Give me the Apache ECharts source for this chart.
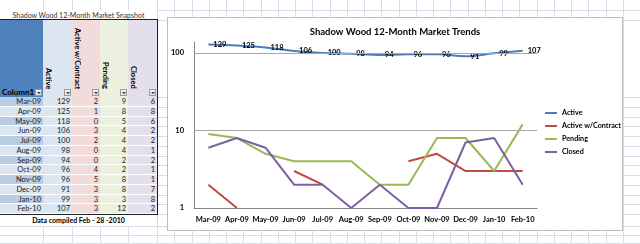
<!DOCTYPE html>
<html>
<head>
<meta charset="utf-8">
<script src="https://cdn.jsdelivr.net/npm/echarts@6/dist/echarts.min.js"></script>
<style>
  html, body { margin: 0; padding: 0; }
  body { width: 640px; height: 244px; overflow: hidden; background: #fff; position: relative; font-family: Lato, "Liberation Sans", sans-serif; }
  .abs { position: absolute; box-sizing: border-box; }
  #chartBox { left: 167px; top: 17px; width: 456px; height: 214px; border: 1px solid #bcbcbc; background: #fff; z-index: 5; }
  #chart { width: 100%; height: 100%; }
</style>
</head>
<body>
<div id="chartBox" class="abs"><div id="chart"></div></div>
<script>
// data
var months = ["Mar-09", "Apr-09", "May-09", "Jun-09", "Jul-09", "Aug-09", "Sep-09", "Oct-09", "Nov-09", "Dec-09", "Jan-10", "Feb-10"];
var activeList = [129, 125, 118, 106, 100, 98, 94, 96, 96, 91, 99, 107];
var contractList = [2, 1, 0, 3, 2, 0, 0, 4, 5, 3, 3, 3];
var pendingList = [9, 8, 5, 4, 4, 4, 2, 2, 8, 8, 3, 12];
var closedList = [6, 8, 6, 2, 2, 1, 2, 1, 1, 7, 8, 2];
var seriesNames = ["Active", "Active w/Contract", "Pending", "Closed"];
var seriesColors = ["#4a7ebb", "#be4b48", "#98b954", "#7d60a0"];

// ---- spreadsheet background + table ----
function box(x, y, w, h, css, text) {
  var d = document.createElement("div");
  d.className = "abs";
  d.style.left = x + "px";
  d.style.top = y + "px";
  d.style.width = w + "px";
  d.style.height = h + "px";
  if (css) d.style.cssText += css;
  if (text !== undefined) d.textContent = text;
  document.body.appendChild(d);
  return d;
}

var gridColor = "#d9dce8";
var colX = [43, 72, 100, 128, 157];
for (var k = 1; k <= 28; k++) colX.push(157 + k * 17.25);
colX.forEach(function (x) { box(x, 0, 1, 244, "background:" + gridColor + ";"); });
var rowTop = 97, rowH = 9.75;
var rowY = [9.5, 19.5, 97];
for (var r = 1; r <= 12; r++) rowY.push(rowTop + r * rowH);
rowY.push(226, 234.5, 243);
rowY.forEach(function (y) { box(0, y, 640, 1, "background:" + gridColor + ";"); });

box(0, 9.5, 157, 10, "font-size:7px;color:#333;text-align:center;line-height:10px;background:#fff;", "Shadow Wood 12-Month Market Snapshot");

var cols = [
  { x: 0, w: 43, bg: "#4f81bd", alt: ["#b8cce4", "#dce6f1"], name: "Column1" },
  { x: 43, w: 29, bg: "#dce6f1", name: "Active", vals: activeList },
  { x: 72, w: 28, bg: "#f2dcdb", name: "Active w/Contract", vals: contractList },
  { x: 100, w: 28, bg: "#ebf1de", name: "Pending", vals: pendingList },
  { x: 128, w: 29, bg: "#e4dfec", name: "Closed", vals: closedList }
];
var headTop = 19.5, headH = 77.5;
cols.forEach(function (c, ci) {
  box(c.x, headTop, c.w, headH, "background:" + c.bg + ";");
  if (ci === 0) {
    box(c.x + 2, 87, 34, 10, "font-size:8px;font-weight:bold;color:#000;line-height:10px;", c.name);
  } else {
    var t = box(c.x + 1, 22, 8, 67, "overflow:hidden;display:flex;flex-direction:column;justify-content:flex-end;");
    var s = document.createElement("div");
    s.style.cssText = "writing-mode:vertical-rl;font-size:7.5px;font-weight:bold;color:#000;white-space:nowrap;line-height:8px;";
    s.textContent = c.name;
    t.appendChild(s);
  }
  // filter button
  var b = box(c.x + c.w - 8, 88.5, 7, 7, "background:linear-gradient(#fafafa,#dcdcdc);border:1px solid #9a9a9a;z-index:2;");
  var tri = document.createElement("div");
  tri.style.cssText = "position:absolute;left:1px;top:2px;width:0;height:0;border-left:2px solid transparent;border-right:2px solid transparent;border-top:2px solid #333;";
  b.appendChild(tri);

  months.forEach(function (m, i) {
    var bg = ci === 0 ? c.alt[i % 2] : c.bg;
    var txt = ci === 0 ? m : String(c.vals[i]);
    box(c.x, rowTop + i * rowH, c.w, rowH,
      "background:" + bg + ";border-bottom:1px solid #fff;font-size:7.5px;color:#222;text-align:right;padding-right:2px;line-height:9px;", txt);
  });
});
box(-2, 19, 160, 196, "border:1.5px solid #1f1f1f;z-index:3;");
box(0, 215, 157, 11, "font-size:7px;font-weight:bold;color:#000;text-align:center;line-height:11px;background:#fff;", "Data compiled Feb - 28 -2010");

// ---- chart ----
function gaps(arr) {
  // log axis cannot show zeros, the sheet leaves them out as gaps
  return arr.map(function (v) { return v > 0 ? v : "-"; });
}

var chartDom = document.getElementById("chart");
var myChart = echarts.init(chartDom);
var boldText = { fontFamily: "Lato, 'Liberation Sans', sans-serif", fontWeight: "bold", color: "#000" };

var option = {
  animation: false,
  color: seriesColors,
  title: {
    text: "Shadow Wood 12-Month Market Trends",
    left: "center",
    top: 4,
    textStyle: Object.assign({}, boldText, { fontSize: 9.5 })
  },
  legend: {
    orient: "vertical",
    left: 377,
    top: 90,
    padding: 0,
    itemGap: 3,
    itemWidth: 12,
    itemHeight: 2,
    icon: "rect",
    data: seriesNames,
    textStyle: Object.assign({}, boldText, { fontSize: 7.2, lineHeight: 10 })
  },
  grid: { left: 24, right: 85, top: 24, bottom: 22 },
  xAxis: {
    type: "category",
    boundaryGap: true,
    data: months,
    axisLine: { lineStyle: { color: "#868686" } },
    axisTick: { show: false },
    axisLabel: Object.assign({}, boldText, { fontSize: 7.5, margin: 8, interval: 0 })
  },
  yAxis: {
    type: "log",
    logBase: 10,
    min: 1,
    max: 138.6,
    axisLine: { show: true, lineStyle: { color: "#868686" } },
    axisTick: { show: false },
    splitLine: { show: false },
    axisLabel: Object.assign({}, boldText, { fontSize: 7.5, margin: 10, showMaxLabel: false })
  },
  series: [
    {
      name: seriesNames[0],
      type: "line",
      smooth: 0.4,
      data: gaps(activeList),
      showSymbol: true,
      symbolSize: 0,
      lineStyle: { width: 2 },
      label: Object.assign({ show: true, position: "right", distance: 5, fontSize: 7.5 }, boldText),
      markLine: {
        silent: true,
        symbol: ["none", "none"],
        label: { show: false },
        lineStyle: { color: "#a6a6a6", width: 1, type: "solid" },
        data: [{ yAxis: 10 }, { yAxis: 100 }]
      },
      z: 3
    },
    {
      name: seriesNames[1],
      type: "line",
      data: gaps(contractList),
      showSymbol: false,
      lineStyle: { width: 2 }
    },
    {
      name: seriesNames[2],
      type: "line",
      data: gaps(pendingList),
      showSymbol: false,
      lineStyle: { width: 2 }
    },
    {
      name: seriesNames[3],
      type: "line",
      data: gaps(closedList),
      showSymbol: false,
      lineStyle: { width: 2 }
    }
  ]
};

if (option && typeof option === "object") {
  myChart.setOption(option);
}
</script>
</body>
</html>
